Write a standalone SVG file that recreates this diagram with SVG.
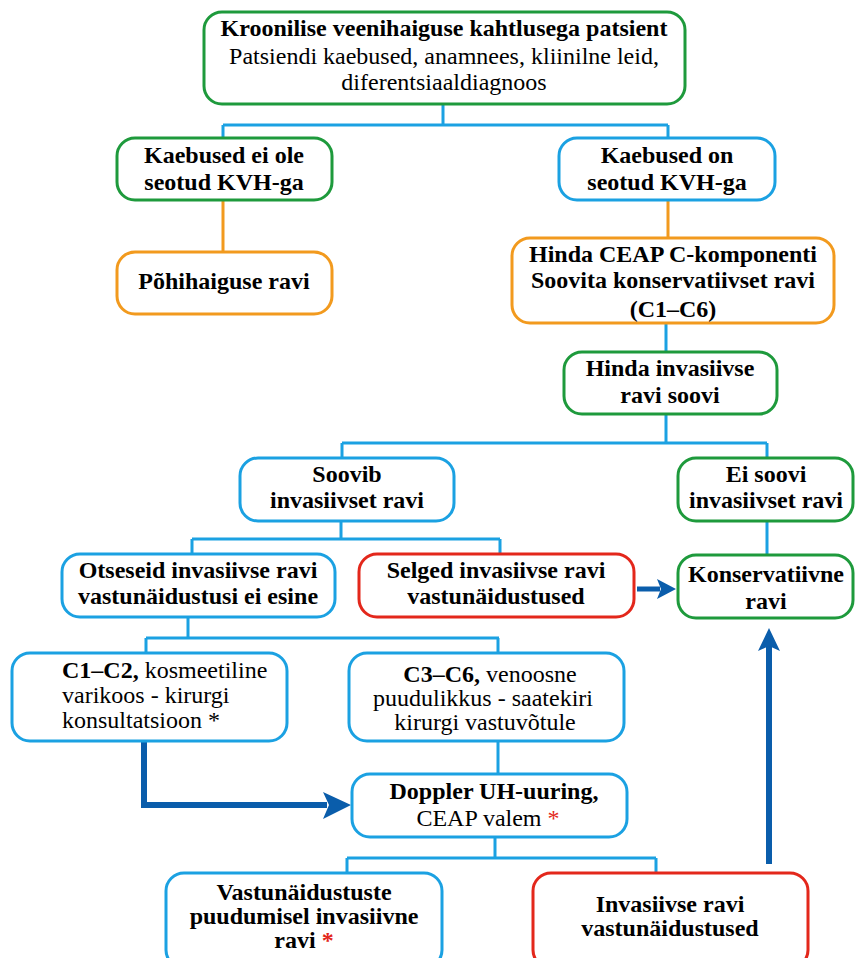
<svg xmlns="http://www.w3.org/2000/svg" width="855" height="958" viewBox="0 0 855 958">
<style>
text{font-family:"Liberation Serif",serif !important;font-size:24px;fill:#000}
.m{text-anchor:middle}
.bd{font-weight:bold}
.box{fill:#fff;stroke-width:3}
.g{stroke:#1e9a3c}.b{stroke:#1ba1e2}.o{stroke:#f29a1e}.r{stroke:#e3271b}
.c{fill:none;stroke-width:3}
.cb{stroke:#1ba1e2}.co{stroke:#f29a1e}
.th{fill:none;stroke:#0a5dab;stroke-width:6}
.ah{fill:#0a5dab}
</style>
<rect width="855" height="958" fill="#fff"/>
<g id="connectors">
<path class="c cb" d="M443 104V125M223 125H668M223 125V138M668 125V138"/>
<path class="c co" d="M223 200V252M668 200V238"/>
<path class="c cb" d="M666 323V352M666 414V443M342 443H767M342 443V458M767 443V458"/>
<path class="c cb" d="M341 521V539M192 539H500M192 539V554M500 539V554"/>
<path class="c cb" d="M767 521V555"/>
<path class="c cb" d="M188 617V638M146 638H499M146 638V653M498 638V653"/>
<path class="c cb" d="M498 741V774"/>
<path class="c cb" d="M495 837V858M347 858H656M347 858V873M656 858V873"/>
<path class="th" d="M637 589H660" style="stroke-width:5"/>
<path class="ah" d="M676 589L657 579L661 589L657 599Z"/>
<path class="th" d="M144 741V805H327"/>
<path class="ah" d="M351 805L323 792L329 805L323 819Z"/>
<path class="th" d="M769 864V646"/>
<path class="ah" d="M769 628L758 651L769 646L780 651Z"/>
</g>
<g id="n0"><rect class="box g" x="204" y="12" width="481" height="92" rx="18"/>
<text class="m bd" font-family="Liberation Serif" x="444" y="36">Kroonilise veenihaiguse kahtlusega patsient</text>
<text class="m" font-family="Liberation Serif" x="444" y="64">Patsiendi kaebused, anamnees, kliinilne leid,</text>
<text class="m" font-family="Liberation Serif" x="444" y="90">diferentsiaaldiagnoos</text></g>
<g id="n1"><rect class="box g" x="117" y="138" width="215" height="62" rx="18"/>
<text class="m bd" font-family="Liberation Serif" x="224" y="163">Kaebused ei ole</text>
<text class="m bd" font-family="Liberation Serif" x="224" y="190">seotud KVH-ga</text></g>
<g id="n2"><rect class="box b" x="559" y="138" width="216" height="62" rx="18"/>
<text class="m bd" font-family="Liberation Serif" x="667" y="163">Kaebused on</text>
<text class="m bd" font-family="Liberation Serif" x="667" y="190">seotud KVH-ga</text></g>
<g id="n3"><rect class="box o" x="117" y="252" width="215" height="62" rx="18"/>
<text class="m bd" font-family="Liberation Serif" x="224" y="289">Põhihaiguse ravi</text></g>
<g id="n4"><rect class="box o" x="512" y="238" width="322" height="85" rx="18"/>
<text class="m bd" font-family="Liberation Serif" x="673" y="262">Hinda CEAP C-komponenti</text>
<text class="m bd" font-family="Liberation Serif" x="673" y="288">Soovita konservatiivset ravi</text>
<text class="m bd" font-family="Liberation Serif" x="673" y="317">(C1–C6)</text></g>
<g id="n5"><rect class="box g" x="564" y="352" width="213" height="62" rx="18"/>
<text class="m bd" font-family="Liberation Serif" x="670" y="376">Hinda invasiivse</text>
<text class="m bd" font-family="Liberation Serif" x="670" y="403">ravi soovi</text></g>
<g id="n6"><rect class="box b" x="240" y="458" width="214" height="63" rx="18"/>
<text class="m bd" font-family="Liberation Serif" x="347" y="482">Soovib</text>
<text class="m bd" font-family="Liberation Serif" x="347" y="508">invasiivset ravi</text></g>
<g id="n7"><rect class="box g" x="678" y="458" width="175" height="63" rx="18"/>
<text class="m bd" font-family="Liberation Serif" x="766" y="482">Ei soovi</text>
<text class="m bd" font-family="Liberation Serif" x="766" y="508">invasiivset ravi</text></g>
<g id="n8"><rect class="box b" x="62" y="554" width="273" height="63" rx="18"/>
<text class="m bd" font-family="Liberation Serif" x="198" y="578">Otseseid invasiivse ravi</text>
<text class="m bd" font-family="Liberation Serif" x="198" y="604">vastunäidustusi ei esine</text></g>
<g id="n9"><rect class="box r" x="359" y="554" width="275" height="63" rx="18"/>
<text class="m bd" font-family="Liberation Serif" x="496" y="578">Selged invasiivse ravi</text>
<text class="m bd" font-family="Liberation Serif" x="496" y="604">vastunäidustused</text></g>
<g id="n10"><rect class="box g" x="678" y="555" width="175" height="63" rx="18"/>
<text class="m bd" font-family="Liberation Serif" x="766" y="582">Konservatiivne</text>
<text class="m bd" font-family="Liberation Serif" x="766" y="609">ravi</text></g>
<g id="n11"><rect class="box b" x="12" y="653" width="275" height="88" rx="18"/>
<text font-family="Liberation Serif" x="62" y="678"><tspan class="bd">C1–C2,</tspan> kosmeetiline</text>
<text font-family="Liberation Serif" x="62" y="703">varikoos - kirurgi</text>
<text font-family="Liberation Serif" x="62" y="728">konsultatsioon *</text></g>
<g id="n12"><rect class="box b" x="349" y="653" width="275" height="88" rx="18"/>
<text class="m" font-family="Liberation Serif" x="490" y="682"><tspan class="bd">C3–C6,</tspan> venoosne</text>
<text class="m" font-family="Liberation Serif" x="483" y="706">puudulikkus - saatekiri</text>
<text class="m" font-family="Liberation Serif" x="485" y="730">kirurgi vastuvõtule</text></g>
<g id="n13"><rect class="box b" x="352" y="774" width="275" height="63" rx="18"/>
<text class="m bd" font-family="Liberation Serif" x="494" y="799">Doppler UH-uuring,</text>
<text class="m" font-family="Liberation Serif" x="488" y="826">CEAP valem <tspan fill="#e3271b" style="fill:#e3271b">*</tspan></text></g>
<g id="n14"><rect class="box b" x="166" y="873" width="276" height="95" rx="18"/>
<text class="m bd" font-family="Liberation Serif" x="304" y="900">Vastunäidustuste</text>
<text class="m bd" font-family="Liberation Serif" x="304" y="924">puudumisel invasiivne</text>
<text class="m bd" font-family="Liberation Serif" x="304" y="948">ravi <tspan fill="#e3271b" style="fill:#e3271b">*</tspan></text></g>
<g id="n15"><rect class="box r" x="533" y="873" width="275" height="95" rx="18"/>
<text class="m bd" font-family="Liberation Serif" x="670" y="912">Invasiivse ravi</text>
<text class="m bd" font-family="Liberation Serif" x="670" y="936">vastunäidustused</text></g>
</svg>
